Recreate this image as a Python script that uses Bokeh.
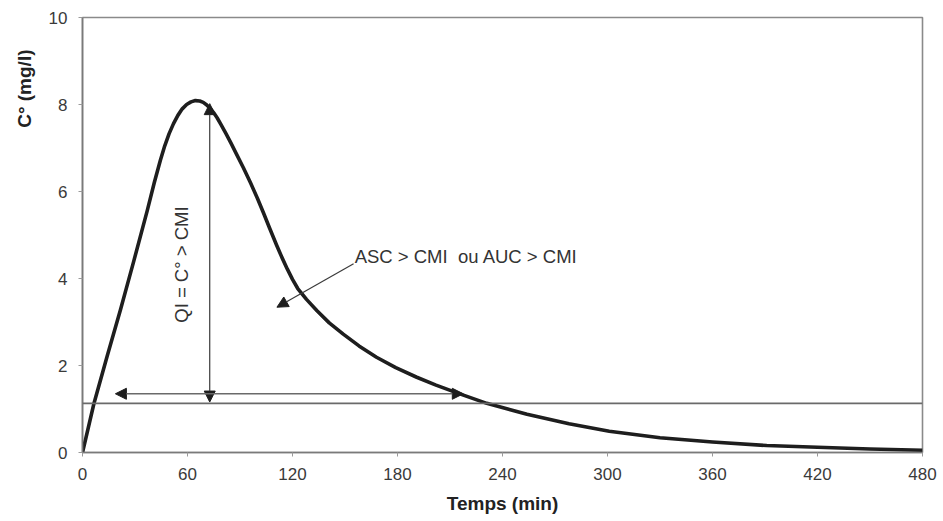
import math
from bokeh.plotting import figure
from bokeh.models import Arrow, NormalHead, Label, Span, FixedTicker, Range1d, Title
from bokeh.embed import file_html
from bokeh.resources import INLINE

# ---- data ----
time_min = [0, 6.5, 14, 21.7, 29.3, 37, 41, 44.5, 47, 49.5, 52, 54.5, 57, 59.5, 62, 64.5,
            67, 69, 71, 73, 75, 77, 79, 82, 85, 88, 92, 96, 100, 103.5, 107, 111, 114,
            117, 120, 123, 128, 134, 141, 149, 158, 168, 179, 191, 202, 214, 231, 254,
            278, 301, 330, 360, 391, 420, 450, 480]
conc_mgl = [0, 1.12, 2.2, 3.28, 4.4, 5.56, 6.2, 6.72, 7.05, 7.33, 7.56, 7.75, 7.9, 8.0, 8.06, 8.09,
            8.08, 8.05, 7.99, 7.91, 7.81, 7.69, 7.55, 7.33, 7.1, 6.86, 6.54, 6.2, 5.84, 5.5, 5.15, 4.76, 4.48,
            4.22, 3.98, 3.77, 3.52, 3.26, 2.98, 2.72, 2.45, 2.19, 1.95, 1.73, 1.55, 1.37, 1.13, 0.88,
            0.66, 0.49, 0.34, 0.24, 0.16, 0.12, 0.08, 0.05]
cmi_level = 1.13
x_ticks = [0, 60, 120, 180, 240, 300, 360, 420, 480]
y_ticks = [0, 2, 4, 6, 8, 10]

# annotation anchors (data units)
qi_arrow = dict(x=72.7, y0=1.16, y1=8.02)
time_arrow = dict(y=1.35, x0=18.8, x1=217.6)
auc_arrow = dict(x0=154.9, y0=4.34, x1=111.1, y1=3.34)
auc_text = dict(x=155.5, y=4.50, text="ASC > CMI \u00a0ou AUC > CMI")
qi_text = dict(x=56.5, y=4.32, text="QI = C° > CMI")
y_title = "C° (mg/l)"
x_title = "Temps (min)"

FONT = "Liberation Sans"

p = figure(width=943, height=521, output_backend="svg", toolbar_location=None,
           x_range=Range1d(0, 480), y_range=Range1d(0, 10),
           min_border_left=82, min_border_right=21, min_border_top=17, min_border_bottom=69)
p.xgrid.visible = False
p.ygrid.visible = False
p.background_fill_color = "white"
p.border_fill_color = "white"
p.outline_line_color = "#8a8a8a"
p.outline_line_width = 1.6

for ax in (p.xaxis[0], p.yaxis[0]):
    ax.axis_line_color = "#7a7a7a"
    ax.axis_line_width = 1.6
    ax.major_tick_line_color = "#9a9a9a"
    ax.major_tick_out = 4
    ax.major_tick_in = 0
    ax.minor_tick_line_color = None
    ax.major_label_text_font = FONT
    ax.major_label_text_font_size = "17px"
    ax.major_label_text_color = "#3a3a3a"
    ax.major_label_standoff = 11

p.xaxis.ticker = FixedTicker(ticks=x_ticks)
p.yaxis.ticker = FixedTicker(ticks=y_ticks)
p.xaxis.axis_label = x_title
p.xaxis.axis_label_text_font = FONT
p.xaxis.axis_label_text_font_size = "19px"
p.xaxis.axis_label_text_font_style = "bold"
p.xaxis.axis_label_text_color = "#222222"
p.xaxis.axis_label_standoff = 10

# y-axis title placed near the top of the left side
p.add_layout(Title(text=y_title, align="right", offset=32, text_font=FONT,
                   text_font_size="19px", text_font_style="bold", text_color="#222222",
                   standoff=21), "left")

# CMI level line
p.add_layout(Span(location=cmi_level, dimension="width", line_color="#6a6a6a", line_width=1.6))

# concentration curve
p.line(time_min, conc_mgl, line_color="#1e1e1e", line_width=3.6, line_join="round")

def head():
    return NormalHead(size=11, fill_color="#1e1e1e", line_color="#1e1e1e", line_width=1)

p.add_layout(Arrow(start=head(), end=head(), x_start=qi_arrow["x"], y_start=qi_arrow["y0"],
                   x_end=qi_arrow["x"], y_end=qi_arrow["y1"], line_color="#3a3a3a", line_width=1.2))
p.add_layout(Arrow(start=head(), end=head(), x_start=time_arrow["x0"], y_start=time_arrow["y"],
                   x_end=time_arrow["x1"], y_end=time_arrow["y"], line_color="#6a6a6a", line_width=1.6))
p.add_layout(Arrow(end=head(), x_start=auc_arrow["x0"], y_start=auc_arrow["y0"],
                   x_end=auc_arrow["x1"], y_end=auc_arrow["y1"], line_color="#3a3a3a", line_width=1.2))

p.add_layout(Label(x=auc_text["x"], y=auc_text["y"], text=auc_text["text"], text_font=FONT,
                   text_font_size="18.5px", text_color="#333333", text_align="left",
                   text_baseline="middle"))
p.add_layout(Label(x=qi_text["x"], y=qi_text["y"], text=qi_text["text"], text_font=FONT,
                   text_font_size="18.5px", text_color="#333333", text_align="center",
                   text_baseline="middle", angle=math.pi / 2))

open("out.html", "w").write(file_html(p, INLINE))
